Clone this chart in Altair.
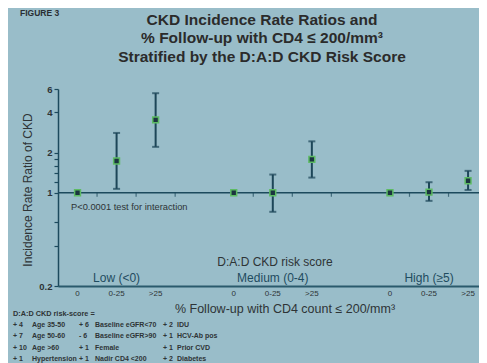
import altair as alt
import pandas as pd

# ---- data ----
groups = ["Low (<0)", "Medium (0-4)", "High (\u22655)"]
categories = ["0", "0-25", ">25"]
irr = [1.0, 1.73, 3.52, 1.0, 1.0, 1.78, 1.0, 1.01, 1.23]
lower = [None, 1.07, 2.21, None, 0.72, 1.30, None, 0.87, 1.05]
upper = [None, 2.81, 5.58, None, 1.37, 2.43, None, 1.20, 1.46]
y_ticks = [0.2, 0.4, 0.6, 1, 1.2, 1.4, 1.6, 1.8, 2, 4, 6]
y_labels = [0.2, 1, 2, 4, 6]
footnote_title = "D:A:D CKD risk-score ="
footnote = [
    ["+ 4", "Age 35-50", "+ 6", "Baseline eGFR<70", "+ 2", "IDU"],
    ["+ 7", "Age 50-60", "- 6", "Baseline eGFR>90", "+ 1", "HCV-Ab pos"],
    ["+ 10", "Age >60", "+ 1", "Female", "+ 1", "Prior CVD"],
    ["+ 1", "Hypertension", "+ 1", "Nadir CD4 <200", "+ 2", "Diabetes"],
]

rows = []
for gi, g in enumerate(groups):
    for ci, c in enumerate(categories):
        k = gi * 3 + ci
        rows.append({"group": g, "cat": c, "pos": gi * 4 + ci + 1,
                     "irr": irr[k], "lo": lower[k], "hi": upper[k]})
df = pd.DataFrame(rows)
ci_df = df.dropna()
grp_df = pd.DataFrame({"group": groups, "pos": [gi * 4 + 2 for gi in range(3)]})
bnd_df = pd.DataFrame({"b": [p + 0.5 for p in sorted(df["pos"])[:-1]]})
one = pd.DataFrame({"k": [0]})

W, H = 421, 197
BG = "#99bdc9"
AX = "#1c4a5d"
TXT = "#2e3436"
FONT = "Liberation Sans"

xs = alt.Scale(domain=[0.5, 11.28], nice=False, zero=False)
ys = alt.Scale(type="log", domain=[0.2, 6], nice=False)

base = alt.Chart(df)

xaxis = alt.Axis(title=None, labels=False, ticks=False, grid=False,
                 domainColor="#2a5a6c", domainWidth=2)
label_expr = "indexof([" + ",".join(str(v) for v in y_labels) + "], datum.value) >= 0 ? format(datum.value, '~g') : ''"
yaxis = alt.Axis(title=None, values=y_ticks, labelExpr=label_expr, grid=False,
                 domainColor=AX, domainWidth=1.5, tickColor=AX, tickSize=4,
                 tickWidth=1.2, labelColor=TXT, labelFontSize=9.5,
                 labelFont=FONT, labelFontWeight="bold", labelPadding=2)

ref_line = alt.Chart(one).mark_rule(color=AX, strokeWidth=1.5).encode(
    y=alt.datum(1, scale=ys))
ref_ticks = alt.Chart(bnd_df).mark_tick(orient="vertical", size=4, thickness=1.2,
                                        color=AX, yOffset=2).encode(
    x=alt.X("b:Q", scale=xs, axis=xaxis), y=alt.datum(1, scale=ys))

bars = alt.Chart(ci_df).mark_rule(color="#1d4658", strokeWidth=2).encode(
    x=alt.X("pos:Q", scale=xs, axis=xaxis),
    y=alt.Y("lo:Q", scale=ys, axis=yaxis), y2="hi:Q")
cap_lo = alt.Chart(ci_df).mark_tick(orient="horizontal", size=7, thickness=2,
                                    color="#1d4658").encode(
    x=alt.X("pos:Q", scale=xs), y=alt.Y("lo:Q", scale=ys))
cap_hi = alt.Chart(ci_df).mark_tick(orient="horizontal", size=7, thickness=2,
                                    color="#1d4658").encode(
    x=alt.X("pos:Q", scale=xs), y=alt.Y("hi:Q", scale=ys))
pts = base.mark_square(size=34, fill="#1b3440", stroke="#5dbb63",
                       strokeWidth=1.5, opacity=1).encode(
    x=alt.X("pos:Q", scale=xs, axis=xaxis),
    y=alt.Y("irr:Q", scale=ys, axis=yaxis))

cat_labels = base.mark_text(fontSize=8, color=TXT, font=FONT).encode(
    x=alt.X("pos:Q", scale=xs), y=alt.value(H + 8), text="cat:N")
grp_labels = alt.Chart(grp_df).mark_text(fontSize=12, color="#1f4c60", font=FONT).encode(
    x=alt.X("pos:Q", scale=xs), y=alt.value(H - 8), text="group:N")


def txt(t, x, y, size, align="center", weight="normal", color=TXT, angle=0):
    return alt.Chart(one).mark_text(text=t, fontSize=size, align=align,
                                    baseline="middle", fontWeight=weight,
                                    color=color, font=FONT, angle=angle).encode(
        x=alt.value(x), y=alt.value(y))


ann = [
    txt("FIGURE 3", -38, -76, 8.5, align="left", weight="bold", color="#2a2f33"),
    txt("CKD Incidence Rate Ratios and", 204, -69, 15.5, weight="bold", color="#2b2b2b"),
    txt("% Follow-up with CD4 \u2264 200/mm\u00b3", 204, -51, 15.5, weight="bold", color="#2b2b2b"),
    txt("Stratified by the D:A:D CKD Risk Score", 204, -32, 15.5, weight="bold", color="#2b2b2b"),
    txt("Incidence Rate Ratio of CKD", -30, 101, 12, angle=270),
    txt("P<0.0001 test for interaction", 13, 118, 9.3, align="left"),
    txt("D:A:D CKD risk score", 217, 173, 12),
    txt("% Follow-up with CD4 count \u2264 200/mm\u00b3", 227, 220, 12.5),
    txt(footnote_title, -45, 225, 7.3, align="left", weight="bold"),
]
col_x = [-45, -26, 21, 37, 105, 119]
for ri, row in enumerate(footnote):
    yy = 236 + ri * 11.3
    for cj, cell in enumerate(row):
        ann.append(txt(cell, col_x[cj], yy, 7, align="left", weight="bold"))

chart = alt.layer(ref_line, ref_ticks, bars, cap_lo, cap_hi, pts, cat_labels,
                  grp_labels, *ann).properties(
    width=W, height=H, background=BG,
    padding={"left": 50, "top": 81, "right": 0, "bottom": 77},
    autosize=alt.AutoSizeParams(type="none"),
).configure_view(stroke=None)

chart.save("out.html", embed_options={"renderer": "svg", "actions": False})
